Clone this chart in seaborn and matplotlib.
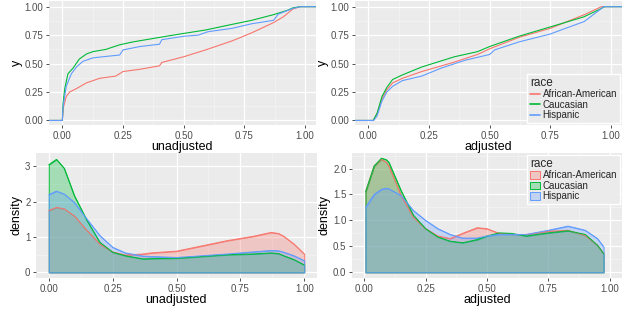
import numpy as np
import pandas as pd
import matplotlib
matplotlib.use("Agg")
import matplotlib.pyplot as plt
from matplotlib.ticker import MultipleLocator
from matplotlib.lines import Line2D
from matplotlib.patches import Patch
import seaborn as sns

races = ["African-American", "Caucasian", "Hispanic"]
colors = ["#F8766D", "#00BA38", "#619CFF"]

# ECDF curves (x, cumulative share)
ecdf_unadj_x = {
    "African-American": [-0.06, 0.0, 0.005, 0.016, 0.03, 0.058, 0.099, 0.153, 0.22, 0.25, 0.32, 0.40, 0.41,
                         0.50, 0.59, 0.70, 0.78, 0.87, 0.91, 0.95, 0.98, 1.06],
    "Caucasian": [-0.06, 0.0, 0.003, 0.01, 0.023, 0.044, 0.07, 0.10, 0.126, 0.18, 0.236, 0.29, 0.40, 0.50,
                  0.59, 0.70, 0.78, 0.87, 0.93, 0.95, 0.98, 1.06],
    "Hispanic": [-0.06, 0.0, 0.003, 0.016, 0.037, 0.058, 0.085, 0.126, 0.167, 0.236, 0.25, 0.32, 0.40, 0.41,
                 0.50, 0.56, 0.60, 0.70, 0.78, 0.87, 0.89, 0.95, 0.98, 1.06],
}
ecdf_unadj_y = {
    "African-American": [0.0, 0.0, 0.12, 0.21, 0.25, 0.28, 0.33, 0.37, 0.39, 0.43, 0.45, 0.48, 0.51,
                         0.56, 0.62, 0.70, 0.77, 0.86, 0.91, 0.98, 1.0, 1.0],
    "Caucasian": [0.0, 0.0, 0.15, 0.28, 0.41, 0.46, 0.54, 0.585, 0.605, 0.625, 0.665, 0.69, 0.73, 0.765,
                  0.795, 0.845, 0.88, 0.93, 0.97, 0.99, 1.0, 1.0],
    "Hispanic": [0.0, 0.0, 0.12, 0.30, 0.41, 0.47, 0.52, 0.55, 0.56, 0.575, 0.62, 0.65, 0.67, 0.71,
                 0.74, 0.75, 0.78, 0.81, 0.85, 0.88, 0.935, 0.985, 1.0, 1.0],
}
ecdf_adj_x = {
    "African-American": [-0.06, 0.0, 0.02, 0.036, 0.056, 0.076, 0.10, 0.14, 0.22, 0.35, 0.45, 0.50, 0.62,
                         0.75, 0.89, 0.96, 1.06],
    "Caucasian": [-0.06, 0.0, 0.02, 0.036, 0.056, 0.076, 0.10, 0.14, 0.22, 0.355, 0.45, 0.50, 0.62,
                  0.754, 0.887, 0.953, 0.973, 1.06],
    "Hispanic": [-0.06, 0.0, 0.022, 0.036, 0.056, 0.076, 0.10, 0.14, 0.22, 0.30, 0.40, 0.50, 0.52,
                 0.62, 0.75, 0.80, 0.89, 0.97, 1.06],
}
ecdf_adj_y = {
    "African-American": [0.0, 0.0, 0.0, 0.06, 0.19, 0.27, 0.33, 0.37, 0.43, 0.51, 0.58, 0.63, 0.73,
                         0.81, 0.93, 1.0, 1.0],
    "Caucasian": [0.0, 0.0, 0.0, 0.064, 0.21, 0.29, 0.36, 0.40, 0.47, 0.56, 0.605, 0.65, 0.74,
                  0.825, 0.91, 0.977, 1.0, 1.0],
    "Hispanic": [0.0, 0.0, 0.0, 0.04, 0.17, 0.25, 0.30, 0.35, 0.39, 0.46, 0.53, 0.58, 0.62,
                 0.69, 0.76, 0.80, 0.87, 1.0, 1.0],
}

# density curves
dens_unadj_x = [0.0, 0.03, 0.06, 0.10, 0.15, 0.20, 0.25, 0.30, 0.37, 0.40, 0.50, 0.60, 0.70, 0.80,
                0.87, 0.90, 0.92, 0.96, 1.0]
dens_unadj_y = {
    "African-American": [1.75, 1.84, 1.80, 1.60, 1.18, 0.80, 0.58, 0.49, 0.52, 0.55, 0.60, 0.75, 0.90,
                         1.02, 1.13, 1.10, 1.02, 0.80, 0.52],
    "Caucasian": [3.05, 3.20, 2.95, 2.17, 1.46, 0.85, 0.57, 0.47, 0.38, 0.39, 0.40, 0.45, 0.50, 0.52,
                  0.55, 0.53, 0.47, 0.36, 0.21],
    "Hispanic": [2.20, 2.30, 2.22, 1.98, 1.50, 1.04, 0.71, 0.55, 0.46, 0.45, 0.42, 0.47, 0.52, 0.58,
                 0.62, 0.61, 0.57, 0.47, 0.33],
}
dens_adj_x = [0.005, 0.04, 0.07, 0.09, 0.10, 0.15, 0.20, 0.25, 0.30, 0.35, 0.40, 0.46, 0.50, 0.55,
              0.60, 0.66, 0.75, 0.83, 0.90, 0.95, 0.975]
dens_adj_y = {
    "African-American": [1.55, 2.05, 2.18, 2.12, 2.05, 1.48, 1.06, 0.84, 0.70, 0.65, 0.75, 0.86, 0.84,
                         0.75, 0.73, 0.73, 0.79, 0.81, 0.71, 0.52, 0.36],
    "Caucasian": [1.55, 2.05, 2.20, 2.17, 2.12, 1.57, 1.10, 0.84, 0.68, 0.60, 0.57, 0.63, 0.70, 0.76,
                  0.75, 0.70, 0.76, 0.80, 0.73, 0.52, 0.36],
    "Hispanic": [1.25, 1.50, 1.60, 1.62, 1.61, 1.48, 1.19, 1.00, 0.84, 0.73, 0.66, 0.66, 0.70, 0.73,
                 0.73, 0.73, 0.81, 0.89, 0.81, 0.65, 0.49],
}

x_ticks = [0.0, 0.25, 0.5, 0.75, 1.0]
x_labels = ["0.00", "0.25", "0.50", "0.75", "1.00"]

sns.set_theme(style="darkgrid", rc={
    "axes.facecolor": "#EBEBEB",
    "grid.color": "white",
    "axes.edgecolor": "#EBEBEB",
})
plt.rcParams["font.family"] = ["Liberation Sans", "DejaVu Sans"]

fig = plt.figure(figsize=(6.4, 3.26), dpi=100)
W, H = 640, 326


def add_ax(left, top, right, bottom):
    return fig.add_axes([left / W, 1 - bottom / H, (right - left) / W, (bottom - top) / H])


def style_ax(ax, xlabel, ylabel, yticks, ylabels, xlim, ylim):
    ax.set_xlim(*xlim)
    ax.set_ylim(*ylim)
    ax.set_xticks(x_ticks)
    ax.set_xticklabels(x_labels)
    ax.set_yticks(yticks)
    ax.set_yticklabels(ylabels)
    ax.xaxis.set_minor_locator(MultipleLocator(0.125))
    step = yticks[1] - yticks[0]
    ax.yaxis.set_minor_locator(MultipleLocator(step / 2))
    ax.grid(True, which="major", color="white", lw=0.9)
    ax.grid(True, which="minor", color="#F5F5F5", lw=0.45)
    ax.tick_params(axis="both", which="major", labelsize=7, labelcolor="#4D4D4D",
                   length=2.5, width=0.6, color="#333333", pad=1.5, bottom=True, left=True)
    ax.tick_params(which="minor", length=0)
    ax.set_xlabel(xlabel, fontsize=9, labelpad=0.5, color="black")
    ax.set_ylabel(ylabel, fontsize=9, labelpad=1.5, color="black")
    for s in ax.spines.values():
        s.set_visible(False)


def ecdf_panel(ax, xs, ys, xlabel):
    rows = []
    for r in races:
        for x, y in zip(xs[r], ys[r]):
            rows.append({"x": x, "y": y, "race": r})
    df = pd.DataFrame(rows)
    sns.lineplot(data=df, x="x", y="y", hue="race", hue_order=races, palette=colors,
                 sort=False, estimator=None, lw=0.8, ax=ax, legend=False)
    style_ax(ax, xlabel, "y", [0, 0.25, 0.5, 0.75, 1.0], ["0.00", "0.25", "0.50", "0.75", "1.00"],
             (-0.055, 1.045), (-0.04, 1.05))


def density_panel(ax, xs, ys, xlabel, yticks, ylabels, ylim):
    for r, c in zip(races, colors):
        sns.lineplot(x=xs, y=ys[r], color=c, lw=0.7, ax=ax)
        ax.fill_between(xs, 0, ys[r], facecolor=matplotlib.colors.to_rgba(c, 0.3),
                        edgecolor=c, lw=0.7)
    style_ax(ax, xlabel, "density", yticks, ylabels, (-0.05, 1.05), ylim)


ax1 = add_ax(49, 1, 316, 125)
ecdf_panel(ax1, ecdf_unadj_x, ecdf_unadj_y, "unadjusted")

ax2 = add_ax(355, 1, 622, 125)
ecdf_panel(ax2, ecdf_adj_x, ecdf_adj_y, "adjusted")
handles = [Line2D([], [], color=c, lw=1.2) for c in colors]
leg = ax2.legend(handles, races, title="race", loc="lower right", fontsize=7, title_fontsize=8.5,
                 frameon=True, fancybox=False, framealpha=1, edgecolor="white",
                 handlelength=1.0, handletextpad=0.3, labelspacing=0.05, borderpad=0.3,
                 borderaxespad=0.2)
leg._legend_box.align = "left"

ax3 = add_ax(36, 153, 317, 278)
density_panel(ax3, dens_unadj_x, dens_unadj_y, "unadjusted", [0, 1, 2, 3], ["0", "1", "2", "3"],
              (-0.16, 3.38))

ax4 = add_ax(352, 153, 622, 278)
density_panel(ax4, dens_adj_x, dens_adj_y, "adjusted", [0, 0.5, 1.0, 1.5, 2.0],
              ["0.0", "0.5", "1.0", "1.5", "2.0"], (-0.11, 2.3))
patches = [Patch(facecolor=matplotlib.colors.to_rgba(c, 0.3), edgecolor=c, lw=0.7) for c in colors]
leg = ax4.legend(patches, races, title="race", loc="upper right", fontsize=7, title_fontsize=8.5,
                 frameon=True, fancybox=False, framealpha=1, edgecolor="white",
                 handlelength=1.0, handleheight=0.8, handletextpad=0.3, labelspacing=0.05,
                 borderpad=0.3, borderaxespad=0.2)
leg._legend_box.align = "left"

fig.savefig("out.png", dpi=100)
